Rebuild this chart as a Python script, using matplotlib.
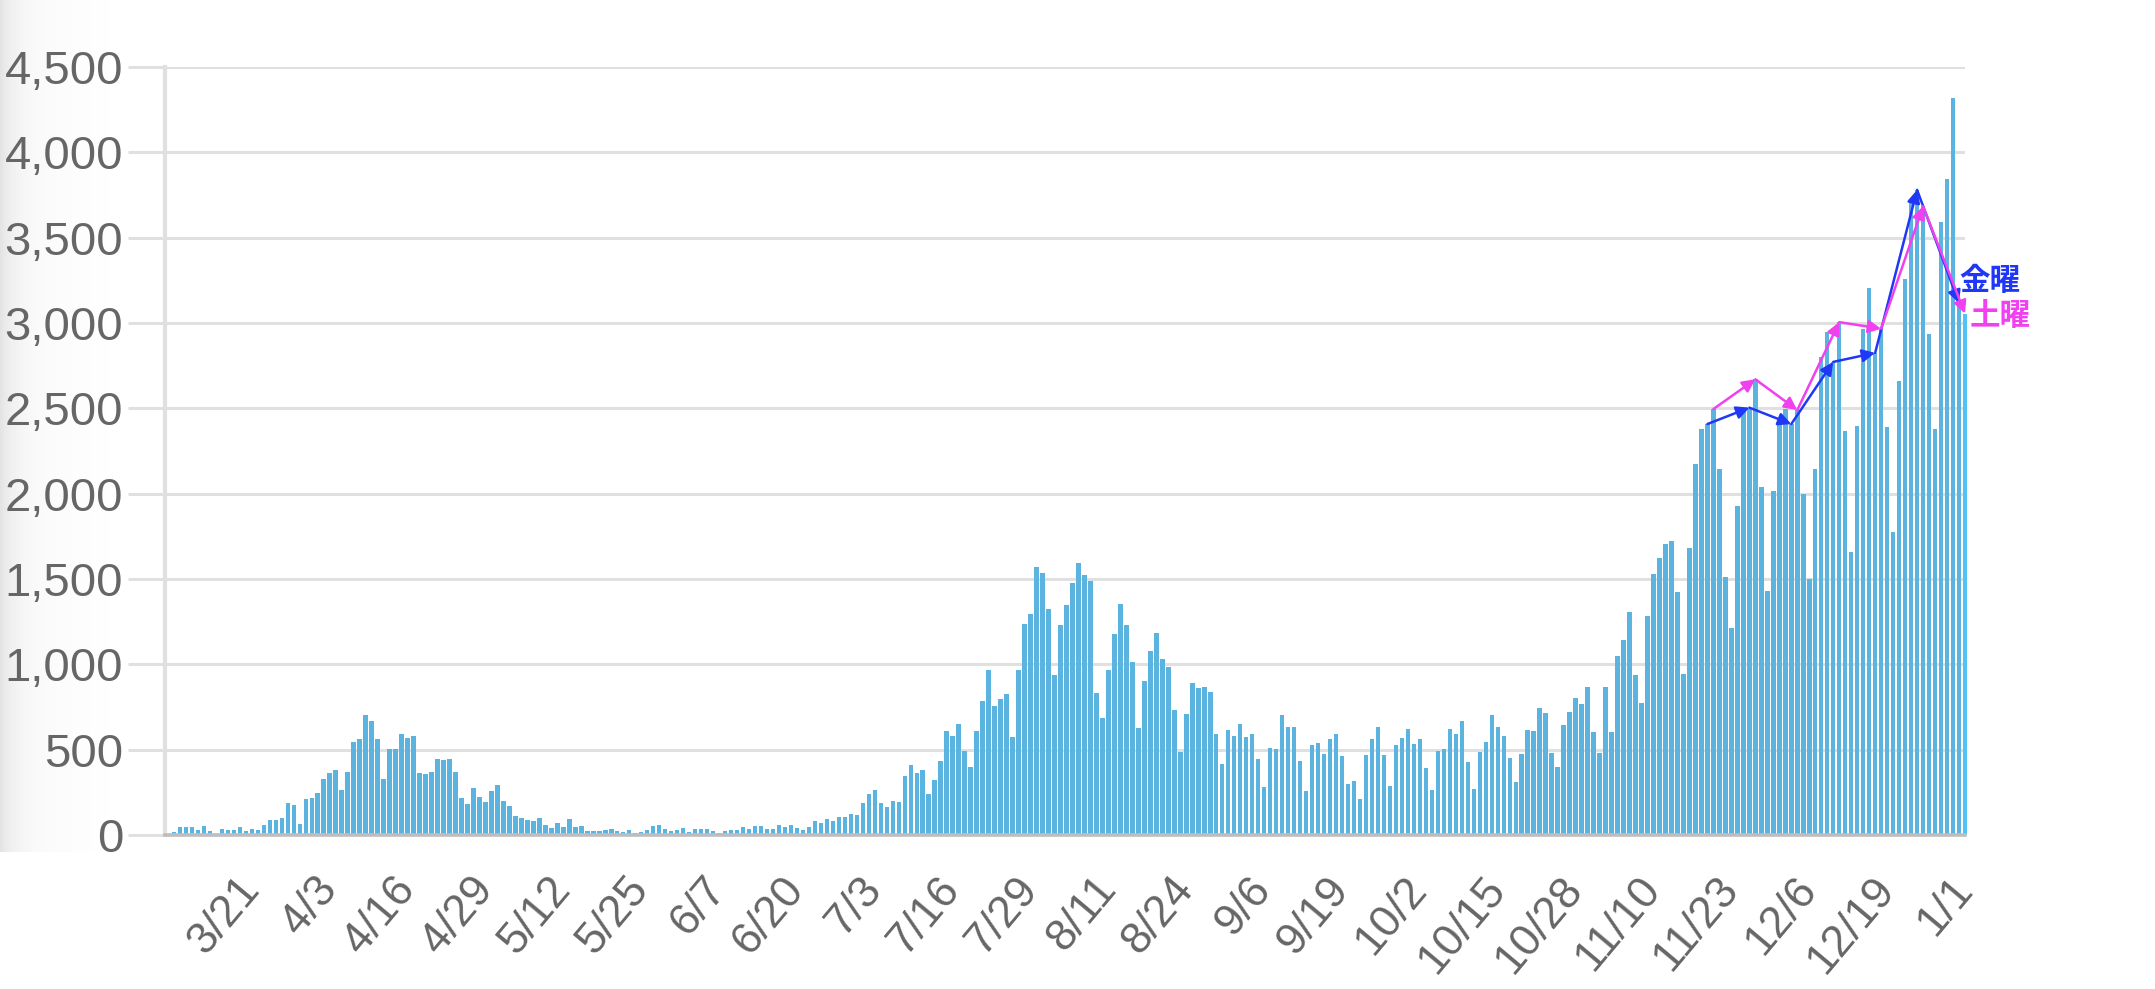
import matplotlib.pyplot as plt
import numpy as np

plt.rcParams['font.family'] = ['Liberation Sans', 'DejaVu Sans']

# daily counts, 3/8 .. 1/1 (one bar per day)
cases = [
    18, 47, 45, 47, 31, 55, 25, 6, 35, 31, 29, 47, 25, 35, 29, 57, 86, 88, 98, 186,
    178, 66, 211, 217, 244, 328, 361, 379, 264, 369, 543, 562, 701, 668, 562, 326, 504, 504, 590, 568,
    582, 363, 355, 367, 443, 437, 443, 367, 215, 182, 275, 221, 191, 258, 293, 197, 170, 111, 100, 88,
    80, 102, 61, 43, 72, 47, 94, 45, 51, 23, 23, 23, 28, 34, 22, 20, 31, 11, 19, 28,
    53, 57, 37, 23, 27, 43, 18, 35, 33, 37, 23, 14, 21, 27, 29, 49, 35, 53, 53, 33,
    33, 59, 47, 57, 41, 31, 45, 80, 70, 92, 80, 104, 104, 123, 117, 186, 240, 262, 186, 164,
    199, 193, 344, 412, 365, 383, 240, 320, 432, 611, 578, 648, 492, 398, 609, 783, 965, 758, 794, 828,
    575, 965, 1239, 1294, 1573, 1535, 1324, 935, 1231, 1347, 1479, 1594, 1522, 1486, 833, 688, 965, 1175, 1353, 1231,
    1014, 626, 900, 1077, 1181, 1033, 982, 735, 486, 708, 888, 863, 865, 839, 592, 418, 618, 582, 651, 577,
    592, 443, 282, 508, 502, 706, 633, 633, 433, 259, 526, 537, 475, 563, 590, 463, 300, 314, 210, 471,
    565, 633, 471, 288, 526, 568, 621, 534, 560, 390, 266, 493, 501, 619, 592, 668, 428, 268, 489, 546,
    702, 633, 578, 454, 310, 473, 613, 607, 743, 716, 483, 396, 647, 722, 803, 769, 868, 603, 479, 868,
    603, 1051, 1140, 1305, 939, 773, 1282, 1532, 1622, 1704, 1721, 1421, 943, 1683, 2175, 2376, 2408, 2496, 2146, 1511,
    1214, 1925, 2490, 2504, 2670, 2038, 1427, 2015, 2408, 2496, 2408, 2490, 1998, 1500, 2143, 2801, 2947, 2772, 3005, 2370,
    1660, 2397, 2967, 3206, 2825, 2967, 2388, 1773, 2662, 3256, 3710, 3780, 3684, 2938, 2379, 3590, 3841, 4321, 3116, 3055,
]
friday_idx = [256, 263, 270, 277, 284, 291, 298]
saturday_idx = [257, 264, 271, 278, 285, 292, 299]
tick_idx = list(range(13, 300, 13))
tick_labels = ['3/21', '4/3', '4/16', '4/29', '5/12', '5/25', '6/7', '6/20', '7/3', '7/16',
               '7/29', '8/11', '8/24', '9/6', '9/19', '10/2', '10/15', '10/28', '11/10',
               '11/23', '12/6', '12/19', '1/1']
y_ticks = [0, 500, 1000, 1500, 2000, 2500, 3000, 3500, 4000, 4500]

W, H = 2155, 989
fig = plt.figure(figsize=(W / 100, H / 100), dpi=100)

# faint shadow on the left edge
bg = fig.add_axes([0, (H - 852) / H, 130 / W, 852 / H])
shade = 1 - 0.085 * np.exp(-np.linspace(0, 130, 130) / 14) - 0.025 * (1 - np.linspace(0, 1, 130))
bg.imshow(np.tile(shade, (10, 1)), cmap='gray', vmin=0, vmax=1, aspect='auto')
bg.axis('off')

ax = fig.add_axes([165 / W, 154 / H, 1800 / W, 768 / H])
x = np.arange(len(cases))
ax.bar(x[:-1], cases[:-1], width=0.75, color='#5bb3e0', zorder=2)
ax.bar(x[-1], cases[-1], width=0.75, color='#4fc3f7', clip_on=False, zorder=2)

for idx, col in ((friday_idx, '#2038f5'), (saturday_idx, '#f040f0')):
    for a, b in zip(idx[:-1], idx[1:]):
        ax.annotate('', xy=(b, cases[b]), xytext=(a, cases[a]),
                    arrowprops=dict(arrowstyle='-|>', color=col, lw=1.8,
                                    mutation_scale=19, shrinkA=0, shrinkB=0),
                    annotation_clip=False, zorder=4)

cjk = ['Noto Sans CJK JP', 'DejaVu Sans']
ax.text(298.0, 3245, '金曜', color='#2038f5', fontsize=22, fontweight='bold',
        family=cjk, ha='left', va='center', clip_on=False)
ax.text(299.7, 3040, '土曜', color='#f040f0', fontsize=22, fontweight='bold',
        family=cjk, ha='left', va='center', clip_on=False)

ax.set_xlim(-1.5, 298.5)
ax.set_ylim(0, 4500)
ax.set_yticks(y_ticks)
ax.set_yticklabels([f'{v:,}' for v in y_ticks])
ax.tick_params(axis='y', length=27, width=2.2, color='#e0e0e0', pad=3,
               labelsize=34, labelcolor='#666666')
ax.yaxis.get_major_ticks()[0].tick1line.set_color('#bdbdbd')
ax.yaxis.grid(True, color='#e0e0e0', lw=2.2, zorder=0)

ax.set_xticks(tick_idx)
ax.set_xticklabels(tick_labels, rotation=50, ha='right', va='center',
                   rotation_mode='anchor')
ax.tick_params(axis='x', length=0, pad=34, labelsize=32, labelcolor='#666666')
for lbl in ax.get_xticklabels():
    lbl.set_x(lbl.get_position()[0] - 1.2)

for s in ('top', 'right'):
    ax.spines[s].set_visible(False)
ax.spines['left'].set_color('#e0e0e0')
ax.spines['left'].set_linewidth(3)
ax.spines['bottom'].set_color('#bdbdbd')
ax.spines['bottom'].set_linewidth(2.6)
ax.set_axisbelow(True)

fig.savefig('out.png', dpi=100)
